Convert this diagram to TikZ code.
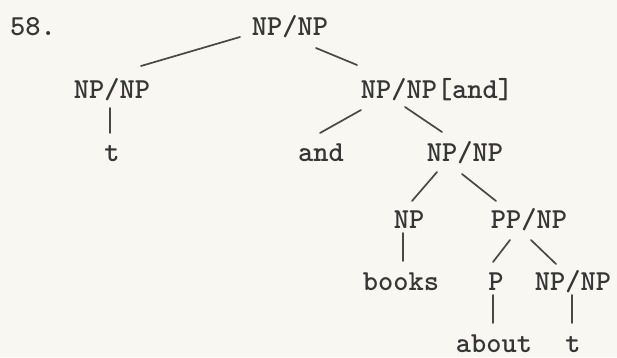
\documentclass[tikz,border=0pt]{standalone}
\usetikzlibrary{calc}
\definecolor{paper}{HTML}{F8F7F1}
\definecolor{ink}{HTML}{363636}
\definecolor{rule}{HTML}{484848}
\begin{document}
\begin{tikzpicture}[x=1pt,y=-1pt,
  lbl/.style={anchor=base,inner sep=0pt,text=ink,font=\fontsize{29}{29}\selectfont\ttfamily\bfseries},
  edge/.style={draw=rule,line width=1.7pt,line cap=round}]
\fill[paper] (0,0) rectangle (617,357);
\useasboundingbox (0,0) rectangle (617,357);
\node[lbl,anchor=base west] (num) at (10,35) {58.};
\node[lbl] (root) at (290,35) {NP/NP};
\node[lbl] (left) at (112,98) {NP/NP};
\node[lbl] (andn) at (437,98) {NP/NP[and]};
\node[lbl] (t1) at (112,161) {t};
\node[lbl] (and) at (321,161) {and};
\node[lbl] (np3) at (465,161) {NP/NP};
\node[lbl] (np) at (409,228) {NP};
\node[lbl] (pp) at (529,228) {PP/NP};
\node[lbl] (books) at (401,290) {books};
\node[lbl] (p) at (496,290) {P};
\node[lbl] (np5) at (573,290) {NP/NP};
\node[lbl] (about) at (494,352) {about};
\node[lbl] (t2) at (573,352) {t};
\draw[edge] ($(root.base)+(-50,2)$) -- ($(left.base)+(29,-32)$);
\draw[edge] ($(root.base)+(26,13)$) -- ($(andn.base)+(-80,-33)$);
\draw[edge] ($(left.base)+(-2,10)$) -- ($(t1.base)+(-2,-28)$);
\draw[edge] ($(andn.base)+(-76,12)$) -- ($(and.base)+(-1,-28)$);
\draw[edge] ($(andn.base)+(-32,9)$) -- ($(np3.base)+(-23,-29)$);
\draw[edge] ($(np3.base)+(-28,11)$) -- ($(np.base)+(3,-27)$);
\draw[edge] ($(np3.base)+(-3,13)$) -- ($(pp.base)+(-33,-27)$);
\draw[edge] ($(np.base)+(-6,5)$) -- ($(books.base)+(2,-29)$);
\draw[edge] ($(pp.base)+(-19,12)$) -- ($(p.base)+(-3,-28)$);
\draw[edge] ($(pp.base)+(2,12)$) -- ($(np5.base)+(-17,-26)$);
\draw[edge] ($(p.base)+(-3,5)$) -- ($(about.base)+(-1,-29)$);
\draw[edge] ($(np5.base)+(-1,5)$) -- ($(t2.base)+(-1,-29)$);
\end{tikzpicture}
\end{document}
